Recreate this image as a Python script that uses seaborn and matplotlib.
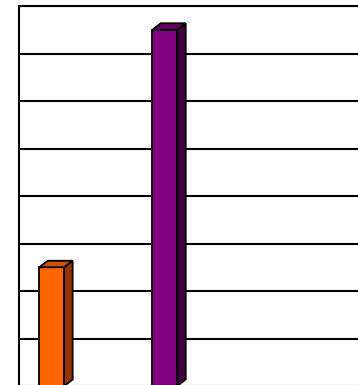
import matplotlib
matplotlib.use("Agg")
import matplotlib.pyplot as plt
import seaborn as sns
import pandas as pd
from matplotlib.patches import Polygon

categories = ["A", "B"]
values = [2.5, 7.5]
front_colors = ["#FF6600", "#800080"]
side_colors = ["#993300", "#400040"]
top_colors = ["#CC5200", "#660066"]
y_ticks = list(range(0, 9))

sns.set_theme(style="white")
W, H = 358, 385
fig = plt.figure(figsize=(W / 100, H / 100), dpi=100)
ax = fig.add_axes([19 / W, -1 / H, 381 / W, 380 / H])

df = pd.DataFrame({"cat": categories, "val": values})
sns.barplot(data=df, x="cat", y="val", hue="cat", palette=front_colors,
            width=0.22, saturation=1, edgecolor="black", linewidth=1.3,
            legend=False, ax=ax, zorder=3)

ax.set_ylim(0, 8)
ax.set_xlim(-0.289, 3.08)
ax.set_yticks(y_ticks)
ax.yaxis.grid(True, color="black", linewidth=1.5)
ax.xaxis.grid(False)
ax.set_axisbelow(True)
ax.tick_params(length=0, labelleft=False, labelbottom=False)
ax.set_xlabel("")
ax.set_ylabel("")
for side in ["right", "bottom"]:
    ax.spines[side].set_visible(False)
for side in ["left", "top"]:
    ax.spines[side].set_color("black")
    ax.spines[side].set_linewidth(1.5)

# 3D depth faces derived from the seaborn bars
dx = 8.5 / 113
dy = 6.5 / 47.5
bars = sorted([p for p in ax.patches if p.get_height() > 0], key=lambda p: p.get_x())
for i, p in enumerate(bars):
    x0 = p.get_x()
    x1 = x0 + p.get_width()
    h = p.get_height()
    side = Polygon([(x1, 0), (x1 + dx, dy), (x1 + dx, h + dy), (x1, h)], closed=True,
                   facecolor=side_colors[i], edgecolor="black", linewidth=1.3, zorder=3)
    top = Polygon([(x0, h), (x0 + dx, h + dy), (x1 + dx, h + dy), (x1, h)], closed=True,
                  facecolor=top_colors[i], edgecolor="black", linewidth=1.3, zorder=3)
    ax.add_patch(side)
    ax.add_patch(top)

fig.savefig("out.png", dpi=100)
